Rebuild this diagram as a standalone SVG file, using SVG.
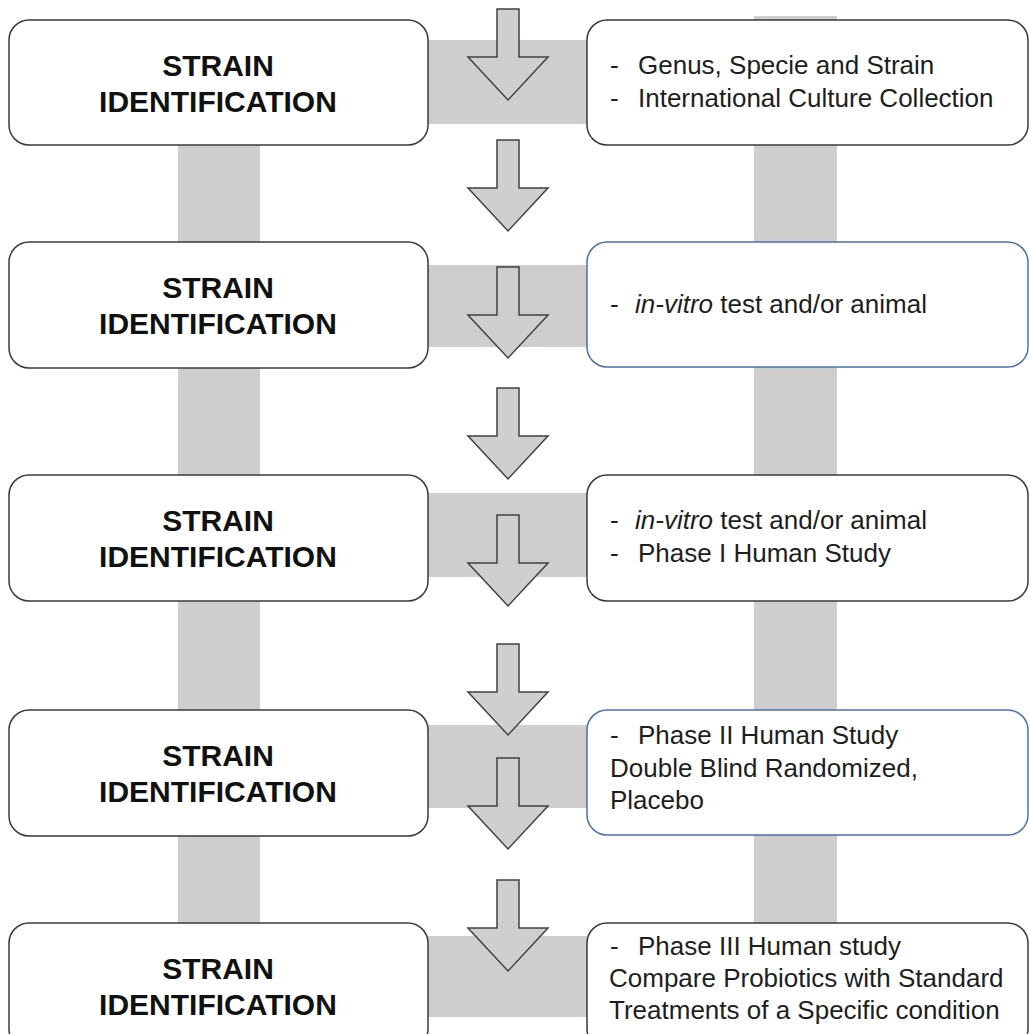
<svg xmlns="http://www.w3.org/2000/svg" width="1029" height="1034" viewBox="0 0 1029 1034">
<style>
.bar{fill:#cfcdce}
.arrow{fill:#d0cece;stroke:#404040;stroke-width:1.5;stroke-linejoin:miter}
.box{fill:#ffffff;stroke:#3a3a3a;stroke-width:1.5}
.boxb{fill:#ffffff;stroke:#4a70b0;stroke-width:1.5}
.lt{font-family:"Liberation Sans",Arial,sans-serif;font-size:30px;font-weight:bold;fill:#111;text-anchor:middle}
.rt{font-family:"Liberation Sans",Arial,sans-serif;font-size:26px;fill:#1e1e1e}
.it{font-style:italic}
</style>
<defs>
<path id="arr" d="M-11,0 H11 V48 H40 L0,91 L-40,48 H-11 Z"/>
</defs>
<rect width="1029" height="1034" fill="#ffffff"/>
<g id="connectors">
<rect class="bar" x="178" y="140" width="82" height="894"/>
<rect class="bar" x="754" y="16" width="83" height="1018"/>
<rect class="bar" x="400" y="40" width="210" height="84"/>
<rect class="bar" x="400" y="265" width="210" height="82"/>
<rect class="bar" x="400" y="493" width="210" height="84"/>
<rect class="bar" x="400" y="725" width="210" height="83"/>
<rect class="bar" x="400" y="936" width="210" height="81"/>
</g>
<g id="row1-left"><rect class="box" x="9" y="20" width="419" height="125" rx="20"/><text class="lt" x="218" y="76">STRAIN</text><text class="lt" x="218" y="112">IDENTIFICATION</text></g>
<g id="row1-right"><rect class="box" x="587" y="20" width="441" height="125" rx="20"/><text class="rt" x="610" y="74">-</text><text class="rt" x="638" y="74">Genus, Specie and Strain</text><text class="rt" x="610" y="107">-</text><text class="rt" x="638" y="107">International  Culture Collection</text></g>
<g id="row2-left"><rect class="box" x="9" y="242" width="419" height="126" rx="20"/><text class="lt" x="218" y="298">STRAIN</text><text class="lt" x="218" y="334">IDENTIFICATION</text></g>
<g id="row2-right"><rect class="boxb" x="587" y="242" width="441" height="125" rx="20"/><text class="rt" x="610" y="313">-</text><text class="rt" x="635" y="313"><tspan class="it">in-vitro</tspan> test  and/or animal</text></g>
<g id="row3-left"><rect class="box" x="9" y="475" width="419" height="126" rx="20"/><text class="lt" x="218" y="531">STRAIN</text><text class="lt" x="218" y="567">IDENTIFICATION</text></g>
<g id="row3-right"><rect class="box" x="587" y="475" width="441" height="126" rx="20"/><text class="rt" x="610" y="529">-</text><text class="rt" x="635" y="529"><tspan class="it">in-vitro</tspan> test  and/or animal</text><text class="rt" x="610" y="562">-</text><text class="rt" x="638" y="562">Phase I Human Study</text></g>
<g id="row4-left"><rect class="box" x="9" y="710" width="419" height="126" rx="20"/><text class="lt" x="218" y="766">STRAIN</text><text class="lt" x="218" y="802">IDENTIFICATION</text></g>
<g id="row4-right"><rect class="boxb" x="587" y="710" width="441" height="125" rx="20"/><text class="rt" x="610" y="744">-</text><text class="rt" x="638" y="744">Phase II Human Study</text><text class="rt" x="610" y="777">Double Blind Randomized,</text><text class="rt" x="610" y="809">Placebo</text></g>
<g id="row5-left"><rect class="box" x="9" y="923" width="419" height="126" rx="20"/><text class="lt" x="218" y="979">STRAIN</text><text class="lt" x="218" y="1015">IDENTIFICATION</text></g>
<g id="row5-right"><rect class="box" x="587" y="923" width="441" height="126" rx="20"/><text class="rt" x="610" y="955">-</text><text class="rt" x="638" y="955">Phase III Human study</text><text class="rt" x="609" y="987">Compare Probiotics with Standard</text><text class="rt" x="609" y="1019">Treatments of a Specific condition</text></g>
<g id="arrows">
<use href="#arr" class="arrow" x="508" y="9"/>
<use href="#arr" class="arrow" x="508" y="140"/>
<use href="#arr" class="arrow" x="508" y="267"/>
<use href="#arr" class="arrow" x="508" y="388"/>
<use href="#arr" class="arrow" x="508" y="515"/>
<use href="#arr" class="arrow" x="508" y="644"/>
<use href="#arr" class="arrow" x="508" y="758"/>
<use href="#arr" class="arrow" x="508" y="880"/>
</g>
</svg>
